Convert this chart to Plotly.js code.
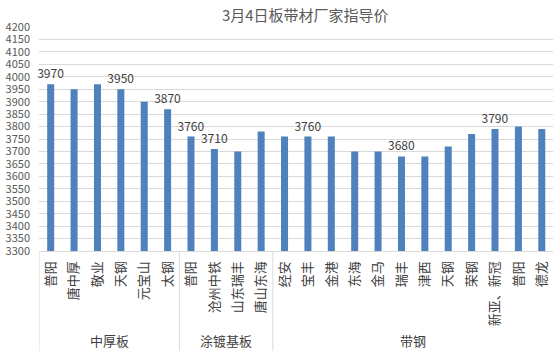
<!DOCTYPE html>
<html>
<head>
<meta charset="utf-8">
<script src="https://cdn.plot.ly/plotly-3.0.1.min.js"></script>
<style>html,body{margin:0;padding:0;background:#fff;}#chart{width:553px;height:351px;}</style>
</head>
<body>
<div id="chart"></div>
<script>
const groups = ["中厚板","中厚板","中厚板","中厚板","中厚板","中厚板",
  "涂镀基板","涂镀基板","涂镀基板","涂镀基板",
  "带钢","带钢","带钢","带钢","带钢","带钢","带钢","带钢","带钢","带钢","带钢","带钢"];
const categories = ["普阳","唐中厚","敬业","天钢","元宝山","太钢",
  "普阳","沧州中铁","山东瑞丰","唐山东海",
  "经安","宝丰","金港","东海","金马","瑞丰","津西","天钢","荣钢","新亚、新冠","普阳","德龙"];
const prices = [3970,3950,3970,3950,3900,3870,
  3760,3710,3700,3780,
  3760,3760,3760,3700,3700,3680,3680,3720,3770,3790,3800,3790];
const shownLabels = ["3970","","","3950","","3870",
  "3760","3710","","",
  "","3760","","","","3680","","","","3790","",""];
const yTicks = [3300,3350,3400,3450,3500,3550,3600,3650,3700,3750,3800,3850,3900,3950,4000,4050,4100,4150,4200];

const font = "'Noto Sans CJK SC', 'Noto Sans', sans-serif";
const W = 553, H = 351, M = {l: 39, r: 0, t: 27, b: 100};
const plotH = H - M.t - M.b;

const idx = categories.map((_, i) => i);

// group runs from the groups array
const runs = [];
groups.forEach((g, i) => {
  if (!runs.length || runs[runs.length - 1].name !== g) runs.push({name: g, start: i, end: i});
  else runs[runs.length - 1].end = i;
});

const bottomY = -(M.b) / plotH;
const shapes = [];
runs.forEach(r => {
  shapes.push({type: 'line', xref: 'x', yref: 'paper', x0: r.start - 0.5, x1: r.start - 0.5,
    y0: 0, y1: bottomY, line: {color: '#d9d9d9', width: 1}});
});
const last = runs[runs.length - 1];
shapes.push({type: 'line', xref: 'x', yref: 'paper', x0: last.end + 0.5, x1: last.end + 0.5,
  y0: 0, y1: bottomY, line: {color: '#d9d9d9', width: 1}});

const annotations = runs.map(r => ({
  text: r.name, xref: 'x', yref: 'paper', x: (r.start + r.end) / 2, y: -89 / plotH,
  xanchor: 'center', yanchor: 'middle', showarrow: false,
  font: {family: font, size: 13, color: '#404040'}
}));

Plotly.newPlot('chart', [{
  type: 'bar',
  x: idx,
  y: prices,
  text: shownLabels,
  textposition: 'outside',
  constraintext: 'none',
  cliponaxis: false,
  textfont: {family: font, size: 12, color: '#404040'},
  marker: {color: '#4f81bd'},
  hoverinfo: 'y'
}], {
  width: W, height: H,
  margin: M,
  paper_bgcolor: '#fff', plot_bgcolor: '#fff',
  font: {family: font, color: '#595959'},
  title: {text: '3月4日板带材厂家指导价', xref: 'container', x: 0.552, xanchor: 'center',
          yref: 'container', y: 0.955, yanchor: 'middle',
          font: {family: font, size: 15, color: '#595959'}},
  bargap: 0.7,
  showlegend: false,
  shapes: shapes,
  annotations: annotations,
  xaxis: {
    range: [-0.5, 21.48],
    tickmode: 'array',
    tickvals: idx,
    ticktext: categories,
    tickangle: -90,
    tickfont: {family: font, size: 13, color: '#404040'},
    ticklabelstandoff: 4,
    showline: true, linecolor: '#d9d9d9', linewidth: 1,
    ticks: '', showgrid: false, zeroline: false
  },
  yaxis: {
    range: [3300, 4200],
    tickvals: yTicks,
    ticktext: yTicks.map(String),
    tickfont: {family: font, size: 11, color: '#595959'},
    gridcolor: '#d9d9d9', gridwidth: 1,
    zeroline: false, showline: false, ticks: '',
    ticklabelstandoff: 8
  }
}, {displayModeBar: false, staticPlot: true});
</script>
</body>
</html>
